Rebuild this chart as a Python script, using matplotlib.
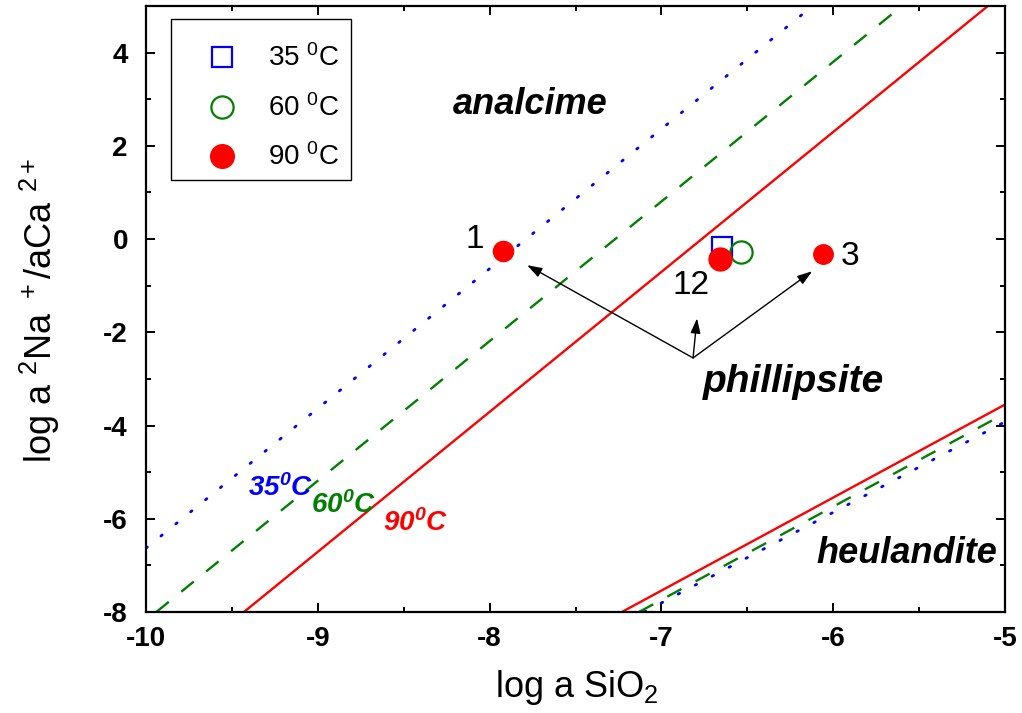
import matplotlib
matplotlib.use("Agg")
import matplotlib.pyplot as plt
from matplotlib.patches import Rectangle

plt.rcParams['font.family'] = ['Liberation Sans', 'DejaVu Sans']
plt.rcParams['mathtext.fontset'] = 'custom'
plt.rcParams['mathtext.rm'] = 'Liberation Sans'
plt.rcParams['mathtext.it'] = 'Liberation Sans:italic'
plt.rcParams['mathtext.bf'] = 'Liberation Sans:bold:italic'
plt.rcParams['axes.unicode_minus'] = False

# Stability boundaries (endpoints in log a SiO2, log a^2Na+/aCa2+)
anl_php_35_x = [-10.0, -6.12]
anl_php_35_y = [-6.63, 5.0]
anl_php_60_x = [-9.94, -5.60]
anl_php_60_y = [-8.0, 5.0]
anl_php_90_x = [-9.43, -5.10]
anl_php_90_y = [-8.0, 5.0]

php_heu_35_x = [-7.10, -5.0]
php_heu_35_y = [-8.0, -3.92]
php_heu_60_x = [-7.13, -5.0]
php_heu_60_y = [-8.0, -3.74]
php_heu_90_x = [-7.23, -5.0]
php_heu_90_y = [-8.0, -3.55]

# Water compositions
pts_35_x = [-6.65]
pts_35_y = [-0.17]
pts_60_x = [-6.535]
pts_60_y = [-0.28]
pts_90_x = [-7.92, -6.66, -6.06]
pts_90_y = [-0.26, -0.43, -0.32]
pts_90_size = [14.5, 16.5, 14.0]
pts_90_names = ["1", "12", "3"]

legend_labels = [r'35 $^0$C', r'60 $^0$C', r'90 $^0$C']

fig = plt.figure(figsize=(10.22, 7.13), dpi=100)
ax = fig.add_axes([0.1429, 0.1417, 0.8405, 0.8499])

dot_style = dict(color='blue', lw=2.0, linestyle=(0, (0.6, 6.3)), dash_capstyle='round')
dash_style = dict(color='green', lw=1.7, linestyle=(0, (6.8, 6.8)))
solid_style = dict(color='red', lw=1.7)

ax.plot(anl_php_35_x, anl_php_35_y, **dot_style)
ax.plot(anl_php_60_x, anl_php_60_y, **dash_style)
ax.plot(anl_php_90_x, anl_php_90_y, **solid_style)
ax.plot(php_heu_35_x, php_heu_35_y, **dot_style)
ax.plot(php_heu_60_x, php_heu_60_y, **dash_style)
ax.plot(php_heu_90_x, php_heu_90_y, **solid_style)

sq_kw = dict(marker='s', ms=14.0, mfc='white', mec='blue', mew=1.6, ls='none')
ci_kw = dict(marker='o', ms=16.0, mfc='none', mec='green', mew=1.6, ls='none')
ax.plot(pts_35_x, pts_35_y, zorder=5, **sq_kw)
ax.plot(pts_60_x, pts_60_y, zorder=5, **ci_kw)
for x, y, s in zip(pts_90_x, pts_90_y, pts_90_size):
    ax.plot([x], [y], 'o', ms=s, color='red', mec='red', zorder=6)

# Point numbers
ax.text(-8.085, -0.02, pts_90_names[0], fontsize=24, ha='center', va='center')
ax.text(-6.83, -1.0, pts_90_names[1], fontsize=24, ha='center', va='center')
ax.text(-5.90, -0.37, pts_90_names[2], fontsize=24, ha='center', va='center')

# Field names
field_kw = dict(fontweight='bold', style='italic', ha='center', va='center')
ax.text(-7.765, 2.88, 'analcime', fontsize=26, **field_kw)
ax.text(-6.234, -3.07, 'phillipsite', fontsize=28, **field_kw)
ax.text(-5.57, -6.74, 'heulandite', fontsize=26, **field_kw)

# Isotherm labels
iso_kw = dict(fontsize=20, fontweight='bold', style='italic', ha='center', va='center')
ax.text(-9.22, -5.35, r'35$^{\mathbf{0}}$C', color='blue', **iso_kw)
ax.text(-8.85, -5.70, r'60$^{\mathbf{0}}$C', color='green', **iso_kw)
ax.text(-8.43, -6.10, r'90$^{\mathbf{0}}$C', color='red', **iso_kw)

# Arrows from the phillipsite field
origin = (-6.816, -2.55)
targets = [(-7.782, -0.56), (-6.793, -1.70), (-6.123, -0.69)]
for tx, ty in targets:
    ax.annotate('', xy=(tx, ty), xytext=origin,
                arrowprops=dict(arrowstyle='-|>,head_length=0.9,head_width=0.3',
                                color='black', lw=1.0, shrinkA=0, shrinkB=0))

ax.set_xlim(-10, -5)
ax.set_ylim(-8, 5)
ax.set_xticks([-10, -9, -8, -7, -6, -5])
ax.set_yticks([-8, -6, -4, -2, 0, 2, 4])
ax.set_xticks([-9.5, -8.5, -7.5, -6.5, -5.5], minor=True)
ax.set_yticks([-7, -5, -3, -1, 1, 3], minor=True)
ax.tick_params(which='both', direction='in', top=True, right=True, width=1.4)
ax.tick_params(which='major', length=6.5, labelsize=20)
ax.tick_params(which='minor', length=3.8)
ax.tick_params(axis='x', which='major', pad=10)
ax.tick_params(axis='y', which='major', pad=13)
for lbl in ax.get_xticklabels() + ax.get_yticklabels():
    lbl.set_fontweight('bold')
for sp in ax.spines.values():
    sp.set_linewidth(1.6)

ax.set_xlabel(r'log a SiO$_2$', fontsize=26)
ax.xaxis.set_label_coords(0.502, -0.092)
ax.set_ylabel(r'log a $^2$Na $^+$/aCa $^{2+}$', fontsize=26)
ax.yaxis.set_label_coords(-0.098, 0.498)

# Legend box drawn in axes coordinates
ax.add_patch(Rectangle((0.0291, 0.7129), 0.2095, 0.2657, transform=ax.transAxes,
                       facecolor='white', edgecolor='black', lw=1.0, zorder=7))
row_y = [0.9158, 0.8333, 0.7525]
base_y = [0.9002, 0.8177, 0.7368]
ax.plot([0.0885], [row_y[0]], transform=ax.transAxes, clip_on=False, zorder=8, **sq_kw)
ax.plot([0.0885], [row_y[1]], transform=ax.transAxes, clip_on=False, zorder=8, **ci_kw)
ax.plot([0.0885], [row_y[2]], 'o', ms=17, color='red', transform=ax.transAxes,
        clip_on=False, zorder=8)
for lab, by in zip(legend_labels, base_y):
    ax.text(0.142, by, lab, fontsize=20, ha='left', va='baseline',
            transform=ax.transAxes, zorder=8)

fig.savefig('out.png', dpi=100)
